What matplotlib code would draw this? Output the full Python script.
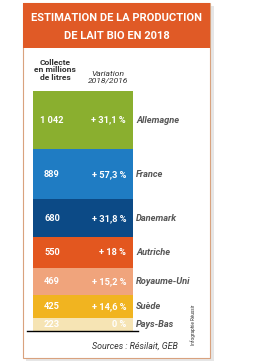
import matplotlib.pyplot as plt
from matplotlib.patches import Rectangle

# data (top to bottom as drawn)
countries = ["Allemagne", "France", "Danemark", "Autriche", "Royaume-Uni", "Suède", "Pays-Bas"]
collecte = [1042, 889, 680, 550, 469, 425, 223]
collecte_labels = ["1 042", "889", "680", "550", "469", "425", "223"]
variation_labels = ["+ 31,1 %", "+ 57,3 %", "+ 31,8 %", "+ 18 %", "+ 15,2 %", "+ 14,6 %", "0 %"]
colors = ["#8aaf2f", "#1f7cc3", "#0c4a86", "#e3571f", "#f0a47c", "#f1b420", "#f6e4b4"]

W, H = 255, 362
fig = plt.figure(figsize=(W / 100, H / 100), dpi=100)
fig.patch.set_facecolor("white")
narrow = ["Roboto", "DejaVu Sans"]


def fx(x):
    return x / W


def fy(y):
    return 1 - y / H


# panel, shadow and header
fig.patches.append(Rectangle((fx(26), fy(361)), fx(188), 355 / H, transform=fig.transFigure,
                             facecolor="#e6e6e6", edgecolor="none", zorder=-3))
fig.patches.append(Rectangle((fx(23), fy(358)), fx(187), 355 / H, transform=fig.transFigure,
                             facecolor="white", edgecolor="#d9a27e", lw=0.8, zorder=-2))
fig.patches.append(Rectangle((fx(23), fy(48)), fx(187), 45 / H, transform=fig.transFigure,
                             facecolor="#e05a26", edgecolor="none", zorder=-1))
fig.text(fx(117), fy(18), "ESTIMATION DE LA PRODUCTION", color="white", fontsize=8,
         fontweight="bold", ha="center", va="center", family=narrow, zorder=3)
fig.text(fx(117), fy(36), "DE LAIT BIO EN 2018", color="white", fontsize=8,
         fontweight="bold", ha="center", va="center", family=narrow, zorder=3)

fig.text(fx(55), fy(70), "Collecte\nen millions\nde litres", color="#333333", fontsize=6.1,
         fontweight="bold", ha="center", va="center", linespacing=1.1, family=narrow)
fig.text(fx(108), fy(77), "Variation\n2018/2016", color="#333333", fontsize=6.1,
         style="italic", ha="center", va="center", linespacing=1.1, family=narrow)

# stacked column, baseline at y=331, top at y=91
ax = fig.add_axes([fx(33), fy(331), fx(100), 240 / H], zorder=5)
ax.patch.set_alpha(0)
total = sum(collecte)
bottom = total
for name, val, lab, var, col in zip(countries, collecte, collecte_labels, variation_labels, colors):
    bottom -= val
    ax.bar(0, val, bottom=bottom, width=1, color=col, edgecolor="none")
    mid = bottom + val / 2
    ax.text(0.19, mid, lab, transform=ax.get_yaxis_transform(), color="white", fontsize=6.7,
            fontweight="bold", ha="center", va="center", family=narrow)
    ax.text(0.93, mid, var, transform=ax.get_yaxis_transform(), color="white", fontsize=6.7,
            fontweight="bold", ha="right", va="center", family=narrow)
    ax.text(1.03, mid, name, transform=ax.get_yaxis_transform(), color="#555555", fontsize=6.7,
            fontweight="bold", style="italic", ha="left", va="center", family=narrow, clip_on=False)
ax.set_xlim(-0.5, 0.5)
ax.set_ylim(0, total)
ax.axis("off")

fig.add_artist(plt.Line2D([fx(27), fx(138)], [fy(331), fy(331)], color="black", lw=1,
                          transform=fig.transFigure, zorder=6))

fig.text(fx(178), fy(346), "Sources : Résilait, GEB", color="#333333", fontsize=6.4,
         style="italic", ha="right", va="center", family=narrow)
fig.text(fx(193), fy(325), "Infographie Réussir", color="#333333", fontsize=3.3,
         rotation=90, ha="center", va="center", family=narrow)

fig.savefig("out.png", dpi=100)
